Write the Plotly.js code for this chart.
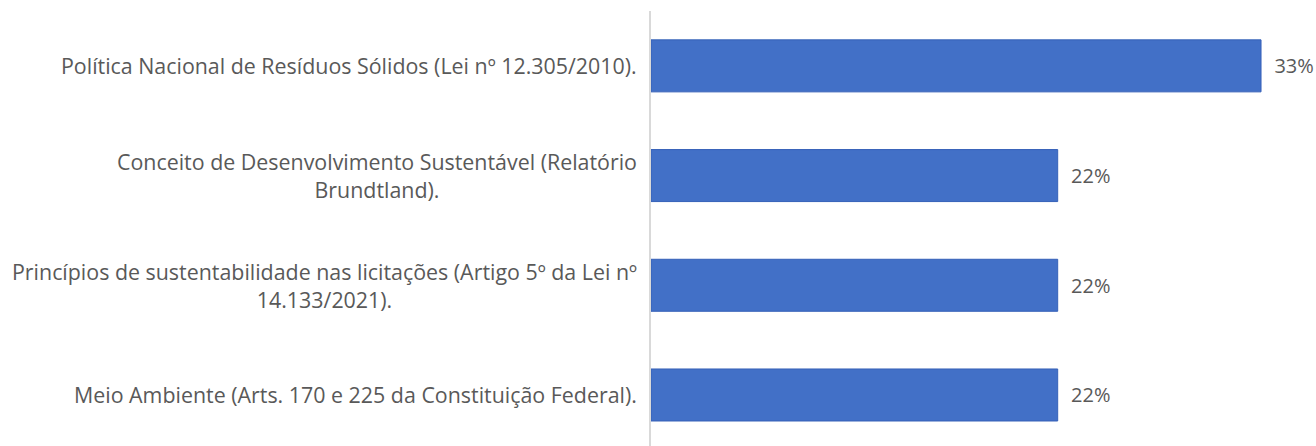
<!DOCTYPE html>
<html>
<head>
<meta charset="utf-8">
<script src="https://cdn.plot.ly/plotly-3.0.1.min.js"></script>
<style>html,body{margin:0;padding:0;background:#fff;}#chart{width:1316px;height:446px;}</style>
</head>
<body>
<div id="chart"></div>
<script>
// Categories, top to bottom
const categories = [
  "Política Nacional de Resíduos Sólidos (Lei nº 12.305/2010).",
  "Conceito de Desenvolvimento Sustentável (Relatório<br>Brundtland).",
  "Princípios de sustentabilidade nas licitações (Artigo 5º da Lei nº<br>14.133/2021).",
  "Meio Ambiente (Arts. 170 e 225 da Constituição Federal)."
];
const values = [33, 22, 22, 22];
const valueLabels = ["33%", "22%", "22%", "22%"];

const labelFont = {family: "Open Sans, Noto Sans, sans-serif", size: 21.4, color: "#595959"};
const valueFont = {family: "Open Sans, Noto Sans, sans-serif", size: 20, color: "#595959"};

const trace = {
  type: "bar",
  orientation: "h",
  y: categories.map((c, i) => i),
  x: values,
  text: valueLabels.map(t => "\u00a0\u00a0" + t),
  textposition: "outside",
  constraintext: "none",
  cliponaxis: false,
  textfont: valueFont,
  marker: {color: "#4270c7", line: {color: "#3560b8", width: 1}},
  hoverinfo: "skip"
};

const annotations = categories.map((c, i) => ({
  x: 0, xref: "x", y: i, yref: "y",
  text: c, showarrow: false, xanchor: "right", yanchor: "middle",
  xshift: -12, align: "center", font: labelFont
}));

const layout = {
  width: 1316, height: 446,
  margin: {l: 651, r: 18, t: 11, b: 0},
  paper_bgcolor: "#ffffff", plot_bgcolor: "#ffffff",
  showlegend: false,
  bargap: 0.526,
  xaxis: {range: [0, 35], visible: false, fixedrange: true},
  yaxis: {
    type: "linear",
    range: [3.465, -0.5],
    showticklabels: false, showgrid: false, zeroline: false,
    showline: true, linecolor: "#d9d9d9", linewidth: 2,
    ticks: "", fixedrange: true
  },
  annotations: annotations,
  font: labelFont
};

Plotly.newPlot("chart", [trace], layout, {displayModeBar: false, staticPlot: true});
</script>
</body>
</html>
